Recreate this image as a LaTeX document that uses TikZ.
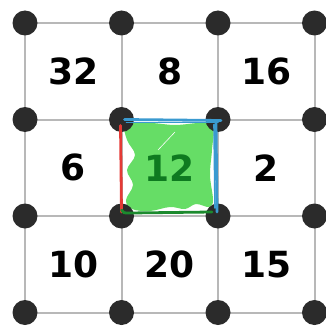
\documentclass[tikz,border=0pt]{standalone}
\usepackage{fontspec}
\newfontfamily\numfont{DejaVu Sans}
\usetikzlibrary{positioning}
\definecolor{gridgray}{HTML}{B8B8B8}
\definecolor{dotink}{HTML}{2B2B2B}
\definecolor{fillgreen}{HTML}{66DD66}
\definecolor{textgreen}{HTML}{0E7A20}
\definecolor{edgered}{HTML}{E53935}
\definecolor{edgeblue}{HTML}{3A9AD0}
\definecolor{edgegreen}{HTML}{1C8A2E}
\tikzset{
  gridpt/.style={circle,fill=dotink,minimum size=25pt,inner sep=0pt},
  gridline/.style={draw=gridgray,line width=2pt},
  cellnum/.style={font=\numfont\bfseries\fontsize{36}{36}\selectfont,text=black,inner sep=0pt},
  sketch/.style={line width=2.8pt,line cap=round}
}

\begin{document}
\begin{tikzpicture}[x=1pt,y=-1pt]
  \useasboundingbox (0,0) rectangle (325,329);
  % lattice positions
  \foreach \r in {1,...,4}
    \foreach \c in {1,...,4}
      \coordinate (p-\r-\c) at ({25+96.5*(\c-1)},{23+96.5*(\r-1)});
  % grid lines
  \foreach \r in {1,2,3,4}
    \foreach \c/\nc in {1/2,2/3,3/4} {
      \draw[gridline] (p-\r-\c) -- (p-\r-\nc);
      \draw[gridline] (p-\c-\r) -- (p-\nc-\r);
    }
  % highlighted cell
  \fill[fillgreen] plot[smooth cycle,tension=0.6] coordinates {
    (126,125) (150,123) (175,125) (200,123) (213,126) (212,150)
    (210,175) (213,200) (209,207) (196,204) (185,209) (170,207)
    (150,211) (132,209) (126,200) (133,185) (127,170) (135,155) (127,140)};
  \draw[white,line width=0.6pt] (158,150) -- (175,132);
  % cell values
  \foreach \r/\c/\v in {1/1/32,1/2/8,1/3/16,2/1/6,2/3/2,3/1/10,3/2/20,3/3/15}
    \node[cellnum] (n-\r-\c) at ({73.25+96.5*(\c-1)},{71.25+96.5*(\r-1)}) {\v};
  \node[cellnum,text=textgreen] (n-2-2) at (169.75,167.75) {12};
  % dots
  \foreach \r in {1,...,4}
    \foreach \c in {1,...,4}
      \node[gridpt] (d-\r-\c) at (p-\r-\c) {};
  % sketched edges
  \draw[sketch,edgered] ([shift={(-1,6)}]p-2-2) -- ([shift={(0,-4)}]p-3-2);
  \draw[sketch,edgeblue] ([shift={(3,0)}]p-2-2) -- ([shift={(3,1)}]p-2-3);
  \draw[sketch,edgeblue,line width=1.6pt] ([shift={(5,3)}]p-2-2) -- ([shift={(0,3)}]p-2-3);
  \draw[sketch,edgeblue] ([shift={(-2,3)}]p-2-3) -- ([shift={(-1,-4)}]p-3-3);
  \draw[sketch,edgeblue,line width=1.6pt] ([shift={(-4,5)}]p-2-3) -- ([shift={(-3,-8)}]p-3-3);
  \draw[sketch,edgegreen] ([shift={(0,-6)}]p-3-2) .. controls ([shift={(2,-3)}]p-3-2) .. ([shift={(8,-3)}]p-3-2) -- ([shift={(-6,-4)}]p-3-3);
\end{tikzpicture}
\end{document}
